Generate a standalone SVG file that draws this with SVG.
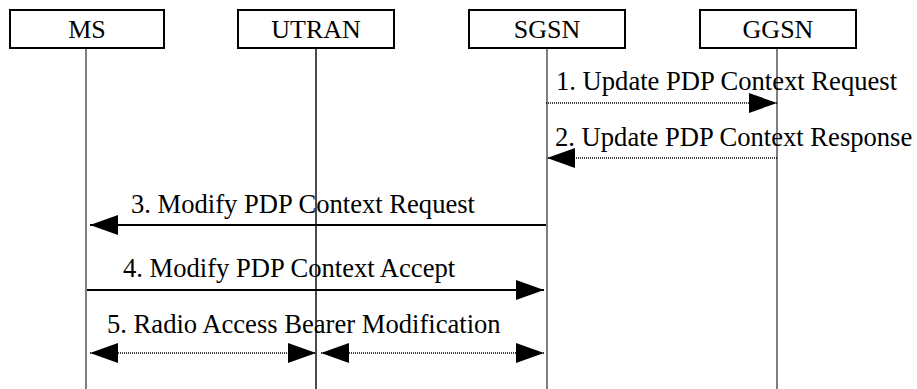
<svg xmlns="http://www.w3.org/2000/svg" width="917" height="389" viewBox="0 0 917 389">
<style>
.box{fill:#fff;stroke:#000;stroke-width:2}
.lbl{font-family:"Liberation Serif","Times New Roman",serif;font-size:26px;fill:#000}
.msg{font-family:"Liberation Serif","Times New Roman",serif;font-size:26.6px;fill:#000}
.life{stroke:#555;stroke-width:1.5}
.solid{stroke:#000;stroke-width:2;fill:none}
.dot{stroke:#000;stroke-width:1.5;stroke-dasharray:1 1;fill:none}
</style>
<defs>
<marker id="ah" markerUnits="userSpaceOnUse" markerWidth="30" markerHeight="22" refX="28" refY="10" orient="auto-start-reverse" viewBox="0 0 30 22">
<path d="M0,0 L28,10 L0,20 Z" fill="#000"/>
</marker>
</defs>
<rect width="917" height="389" fill="#fff"/>
<g id="MS">
<rect class="box" x="10" y="10" width="154" height="38"/>
<text class="lbl" x="87" y="38" text-anchor="middle">MS</text>
<line class="life" x1="86" y1="49" x2="86" y2="389"/>
</g>
<g id="UTRAN">
<rect class="box" x="238" y="10" width="156" height="38"/>
<text class="lbl" x="316" y="38" text-anchor="middle">UTRAN</text>
<line class="life" x1="316" y1="49" x2="316" y2="389" style="stroke:#111"/>
</g>
<g id="SGSN">
<rect class="box" x="469" y="10" width="156" height="38"/>
<text class="lbl" x="547" y="38" text-anchor="middle">SGSN</text>
<line class="life" x1="547" y1="49" x2="547" y2="389"/>
</g>
<g id="GGSN">
<rect class="box" x="700" y="10" width="156" height="38"/>
<text class="lbl" x="778" y="38" text-anchor="middle">GGSN</text>
<line class="life" x1="777" y1="49" x2="777" y2="389"/>
</g>
<g id="connectors">
<line class="dot" x1="546" y1="103" x2="777" y2="103" marker-end="url(#ah)"/>
<line class="dot" x1="777" y1="158" x2="547" y2="158" marker-end="url(#ah)"/>
<line class="solid" x1="546" y1="225" x2="90" y2="225" marker-end="url(#ah)"/>
<line class="solid" x1="87" y1="290" x2="544" y2="290" marker-end="url(#ah)"/>
<line class="dot" x1="90" y1="353" x2="316" y2="353" marker-start="url(#ah)" marker-end="url(#ah)"/>
<line class="dot" x1="321" y1="353" x2="544" y2="353" marker-start="url(#ah)" marker-end="url(#ah)"/>
</g>
<g id="labels">
<text class="msg" x="556" y="90">1. Update PDP Context Request</text>
<text class="msg" x="555" y="146">2. Update PDP Context Response</text>
<text class="msg" x="131" y="213">3. Modify PDP Context Request</text>
<text class="msg" x="123" y="277">4. Modify PDP Context Accept</text>
<text class="msg" x="107" y="333">5. Radio Access Bearer Modification</text>
</g>
</svg>
